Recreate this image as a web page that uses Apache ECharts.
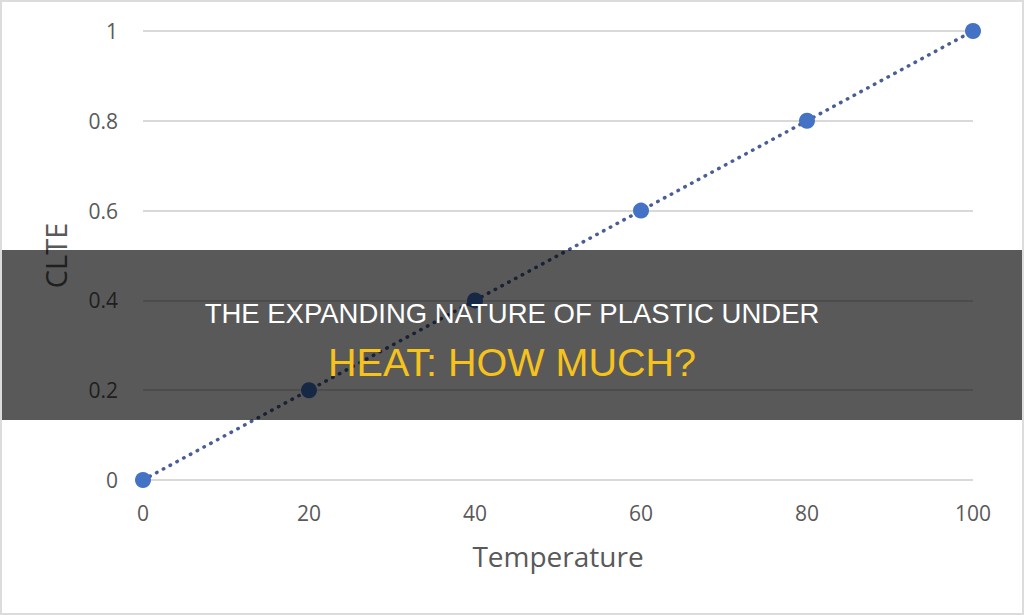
<!DOCTYPE html>
<html>
<head>
<meta charset="utf-8">
<script src="https://cdn.jsdelivr.net/npm/echarts@6/dist/echarts.min.js"></script>
<style>
  html, body { margin: 0; padding: 0; background: #fff; }
  #wrap { position: relative; width: 1024px; height: 615px; }
  #chart { width: 1024px; height: 615px; }
  #frame { position: absolute; left: 0; top: 0; width: 1024px; height: 615px; box-sizing: border-box; border: 2px solid #dcdcdc; pointer-events: none; }
</style>
</head>
<body>
<div id="wrap">
  <div id="chart"></div>
  <div id="frame"></div>
</div>
<script>
const temperature = [0, 20, 40, 60, 80, 100];
const clte = [0, 0.2, 0.4, 0.6, 0.8, 1];
const xAxisName = 'Temperature';
const yAxisName = 'CLTE';
const titleLine1 = 'THE EXPANDING NATURE OF PLASTIC UNDER';
const titleLine2 = 'HEAT: HOW MUCH?';

const chart = echarts.init(document.getElementById('chart'), null, { renderer: 'svg' });
const points = temperature.map((t, i) => [t, clte[i]]);

chart.setOption({
  backgroundColor: '#ffffff',
  animation: false,
  grid: { left: 143, right: 51, top: 31, bottom: 135 },
  xAxis: {
    type: 'value', min: 0, max: 100, interval: 20,
    name: xAxisName, nameLocation: 'middle', nameGap: 62,
    nameTextStyle: { color: '#595959', fontSize: 28, fontFamily: 'Open Sans' },
    axisLine: { show: false }, axisTick: { show: false },
    splitLine: { show: false },
    axisLabel: { color: '#595959', fontSize: 21, fontFamily: 'Open Sans', margin: 22 }
  },
  yAxis: {
    type: 'value', min: 0, max: 1, interval: 0.2,
    name: yAxisName, nameLocation: 'middle', nameGap: 73, nameRotate: 90,
    nameTextStyle: { color: '#595959', fontSize: 29, fontFamily: 'Open Sans' },
    axisLine: { show: false }, axisTick: { show: false },
    splitLine: { show: true, lineStyle: { color: '#d9d9d9', width: 2 } },
    axisLabel: { color: '#595959', fontSize: 21, fontFamily: 'Open Sans', margin: 25 }
  },
  series: [{
    type: 'line',
    data: points,
    symbol: 'circle',
    symbolSize: 16,
    itemStyle: { color: '#4472c4' },
    lineStyle: { color: '#4a5e96', width: 3.5, type: [0.5, 7.2], cap: 'round' },
    z: 3
  }],
  graphic: [
    {
      type: 'rect', left: 0, top: 250, z: 100,
      shape: { width: 1024, height: 170 },
      style: { fill: 'rgba(0,0,0,0.65)' }
    },
    {
      type: 'text', x: 512, y: 313, z: 101,
      style: { text: titleLine1, fill: '#ffffff', font: '27.5px "Liberation Sans"', align: 'center', verticalAlign: 'middle' }
    },
    {
      type: 'text', x: 512, y: 362, z: 101,
      style: { text: titleLine2, fill: '#f6c21c', font: '39.5px "Liberation Sans"', align: 'center', verticalAlign: 'middle' }
    }
  ]
});
</script>
</body>
</html>
